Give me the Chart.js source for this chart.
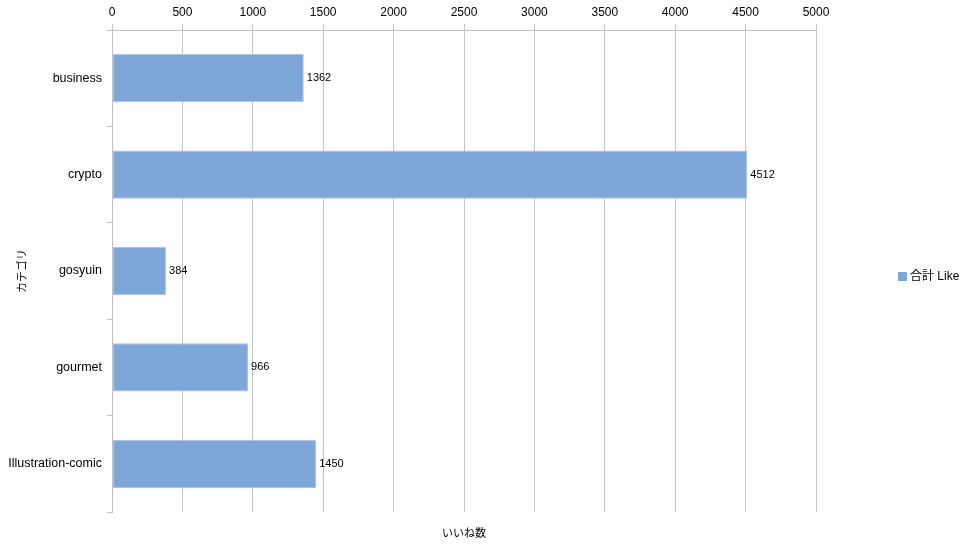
<!DOCTYPE html>
<html>
<head>
<meta charset="utf-8">
<script src="https://cdn.jsdelivr.net/npm/chart.js@4.4.0/dist/chart.umd.min.js"></script>
<style>
  html, body { margin: 0; padding: 0; background: #fff; }
  #wrap { width: 971px; height: 547px; }
</style>
</head>
<body>
<div id="wrap"><canvas id="chart"></canvas></div>
<script>
// dados
const categorias = ['business', 'crypto', 'gosyuin', 'gourmet', 'Illustration-comic'];
const likes = [1362, 4512, 384, 966, 1450];
const serieNome = '合計 Like';
const eixoX = 'いいね数';
const eixoY = 'カテゴリ';

const FONT = '"Liberation Sans", Arial, "Noto Sans CJK JP", sans-serif';
const AZUL = '#7ea6d8';

// rótulos ao lado das barras + legenda à direita
const rotulos = {
  id: 'rotulos',
  afterDatasetsDraw(chart) {
    const ctx = chart.ctx;
    const meta = chart.getDatasetMeta(0);
    ctx.save();
    ctx.font = '11px ' + FONT;
    ctx.fillStyle = '#000';
    ctx.textBaseline = 'middle';
    ctx.textAlign = 'left';
    meta.data.forEach((bar, i) => {
      ctx.fillText(String(likes[i]), bar.x + 3, bar.y);
    });
    // legenda
    const ly = (chart.chartArea.top + chart.chartArea.bottom) / 2 + 5;
    ctx.fillStyle = AZUL;
    ctx.fillRect(898, ly - 4, 9, 9);
    ctx.fillStyle = '#000';
    ctx.font = '12px ' + FONT;
    ctx.fillText(serieNome, 910, ly + 1);
    ctx.restore();
  }
};

new Chart(document.getElementById('chart'), {
  type: 'bar',
  data: {
    labels: categorias,
    datasets: [{
      label: serieNome,
      data: likes,
      xAxisID: 'x',
      backgroundColor: AZUL,
      borderColor: '#aac4e6',
      borderWidth: 1,
      borderSkipped: false,
      barPercentage: 0.5,
      categoryPercentage: 1
    }]
  },
  options: {
    indexAxis: 'y',
    responsive: true,
    maintainAspectRatio: false,
    animation: false,
    layout: { padding: { left: 0, right: 155, top: 0, bottom: 0 } },
    plugins: {
      legend: { display: false },
      tooltip: { enabled: false }
    },
    scales: {
      x: {
        position: 'top',
        min: 0,
        max: 5000,
        ticks: {
          stepSize: 500, color: '#000', font: { family: FONT, size: 12 }, padding: 4, maxRotation: 0,
          callback: v => String(v)
        },
        grid: { color: '#c4c4c4', tickLength: 6, drawTicks: true },
        border: { color: '#bfbfbf' },
        afterFit(scale) { scale.height = 30; }
      },
      x2: {
        position: 'bottom',
        display: true,
        ticks: { display: false },
        grid: { display: false },
        border: { display: false },
        title: { display: true, text: eixoX, color: '#000', font: { family: FONT, size: 11 }, padding: { top: 4, bottom: 6 } },
        afterFit(scale) { scale.height = 35; }
      },
      y: {
        ticks: { color: '#000', font: { family: FONT, size: 12.5 }, padding: 5 },
        grid: { drawOnChartArea: false, drawTicks: true, tickLength: 5, color: '#bfbfbf', offset: true },
        border: { color: '#bfbfbf' },
        title: { display: true, text: eixoY, color: '#000', font: { family: FONT, size: 11 }, padding: { top: 16, bottom: 4 } },
        afterFit(scale) { scale.width = 112; }
      }
    }
  },
  plugins: [rotulos]
});
</script>
</body>
</html>
